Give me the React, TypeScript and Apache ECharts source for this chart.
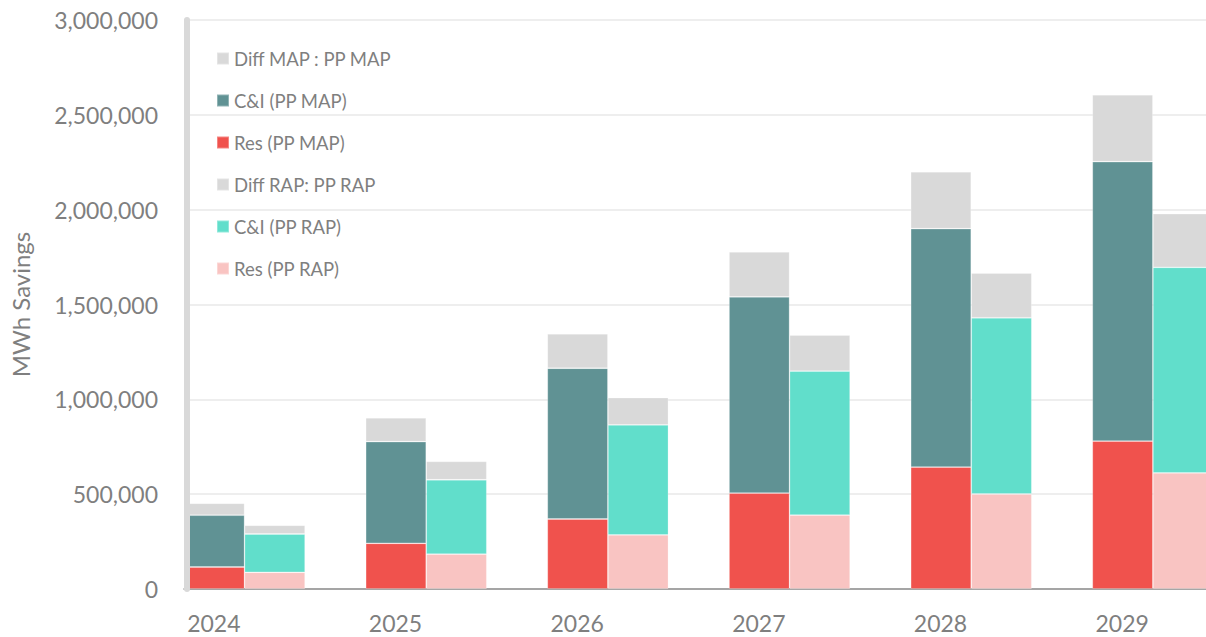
import React, { useEffect, useRef } from "react";
import * as echarts from "echarts";

const categories = ["2024", "2025", "2026", "2027", "2028", "2029"];
const resMAP = [116000, 241000, 369000, 506000, 643000, 780000];
const ciMAP = [273000, 536000, 795000, 1034000, 1257000, 1473000];
const diffMAP = [63000, 125000, 181000, 237000, 300000, 353000];
const resRAP = [88000, 184000, 285000, 390000, 501000, 612000];
const ciRAP = [202000, 392000, 580000, 759000, 929000, 1084000];
const diffRAP = [46000, 97000, 144000, 190000, 236000, 283000];

const legendOrder = [
  "Diff MAP : PP MAP",
  "C&I (PP MAP)",
  "Res (PP MAP)",
  "Diff RAP: PP RAP",
  "C&I (PP RAP)",
  "Res (PP RAP)",
];

const FONT = "Lato, 'Open Sans', sans-serif";
const GRAY = "#7f7f7f";

export default function App() {
  const ref = useRef<HTMLDivElement>(null);
  useEffect(() => {
    if (!ref.current) return;
    const chart = echarts.init(ref.current, undefined, { renderer: "svg" });
    const border = { borderColor: "rgba(255,255,255,0.3)", borderWidth: 0.8 };
    const mk = (name: string, data: number[], stack: string, color: string) => ({
      name,
      type: "bar",
      stack,
      data,
      barGap: "0%",
      barCategoryGap: "0%",
      itemStyle: { color, ...border },
      emphasis: { disabled: true },
    });
    chart.setOption({
      animation: false,
      textStyle: { fontFamily: FONT },
      grid: { left: 179, right: 0, top: 20, bottom: 48, containLabel: false },
      legend: {
        data: legendOrder,
        orient: "vertical",
        left: 211,
        top: 43,
        icon: "rect",
        itemWidth: 12,
        itemHeight: 12,
        itemGap: 21,
        textStyle: { color: GRAY, fontSize: 18.5, fontFamily: FONT, lineHeight: 21 },
        selectedMode: false,
      },
      xAxis: {
        type: "category",
        data: categories,
        axisLine: { show: true, lineStyle: { color: "#8c8c8c", width: 1.5 } },
        axisTick: { show: false },
        axisLabel: {
          color: GRAY,
          fontSize: 23,
          fontFamily: FONT,
          margin: 22,
          padding: [0, 122, 0, 0],
        },
      },
      yAxis: [
        {
          type: "value",
          min: 0,
          max: 3000000,
          interval: 500000,
          name: "MWh Savings",
          nameLocation: "middle",
          nameRotate: 90,
          nameGap: 152,
          nameTextStyle: { color: GRAY, fontSize: 24, fontFamily: FONT },
          axisLine: { show: false },
          axisTick: { show: false },
          axisLabel: {
            color: GRAY,
            fontSize: 23,
            fontFamily: FONT,
            margin: 26,
            formatter: (v: number) => v.toLocaleString("en-US"),
          },
          splitLine: { lineStyle: { color: "#e8e8e8", width: 1.5 } },
        },
        {
          type: "value",
          position: "left",
          min: 0,
          max: 3000000,
          interval: 500000,
          offset: -3,
          z: 5,
          axisLine: { show: true, lineStyle: { color: "#d9d9d9", width: 6 } },
          axisTick: { show: false },
          axisLabel: { show: false },
          splitLine: { show: false },
        },
      ],
      series: [
        mk("Res (PP MAP)", resMAP, "map", "#F0524D"),
        mk("C&I (PP MAP)", ciMAP, "map", "#609294"),
        mk("Diff MAP : PP MAP", diffMAP, "map", "#D9D9D9"),
        mk("Res (PP RAP)", resRAP, "rap", "#F9C4C2"),
        mk("C&I (PP RAP)", ciRAP, "rap", "#61DECB"),
        mk("Diff RAP: PP RAP", diffRAP, "rap", "#D9D9D9"),
        {
          name: "pad",
          type: "bar",
          stack: "pad",
          data: categories.map(() => "-"),
          barGap: "0%",
          barCategoryGap: "0%",
        },
      ],
    });
    return () => chart.dispose();
  }, []);
  return (
    <div
      style={{
        position: "fixed",
        left: 0,
        top: 0,
        width: 1206,
        height: 637,
        overflow: "hidden",
        background: "#fff",
      }}
    >
      <div ref={ref} style={{ width: 1274, height: 637 }} />
    </div>
  );
}
